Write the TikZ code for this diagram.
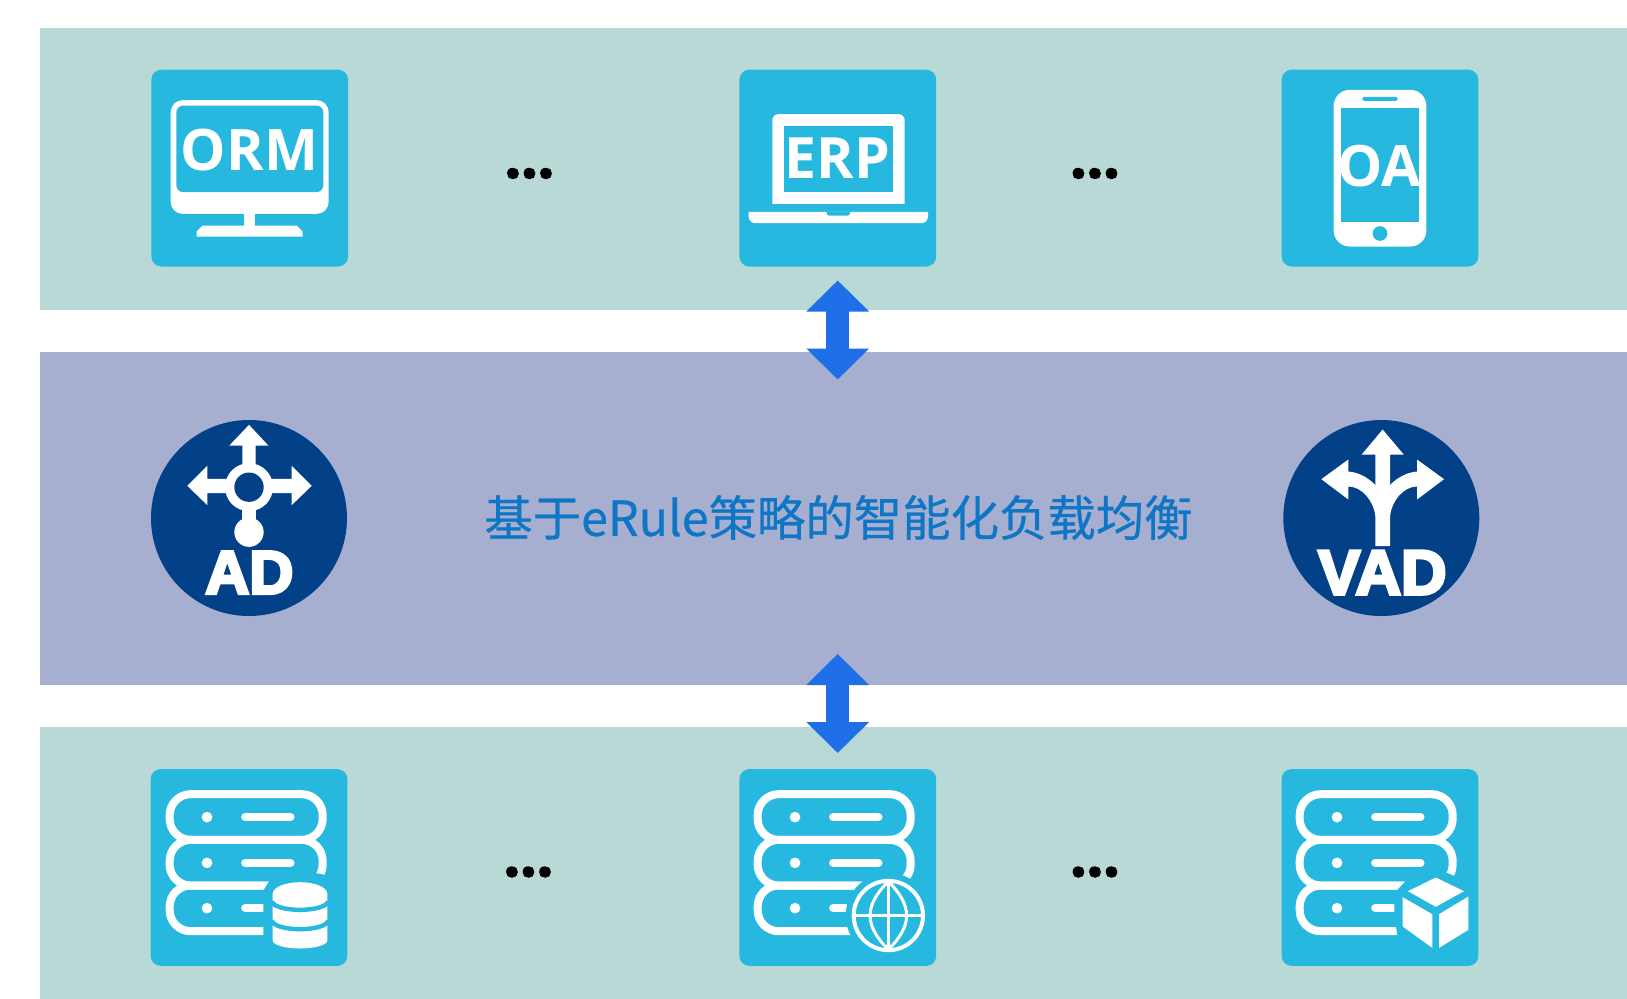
\documentclass[tikz,border=0pt]{standalone}
\usepackage{fontspec}
\usetikzlibrary{arrows.meta}
\setmainfont{Open Sans}
\newfontfamily\cjkfont[FakeBold=0.5]{Noto Sans CJK SC}
\newfontfamily\iconfont{Open Sans}
\newfontfamily\dotfont[FakeBold=3]{Open Sans Bold}
\newfontfamily\heavyfont[FakeBold=5]{Liberation Sans Bold}
\definecolor{bandgreen}{HTML}{B9D9D7}
\definecolor{bandviolet}{HTML}{A7AFD1}
\definecolor{tile}{HTML}{26B8DF}
\definecolor{navy}{HTML}{024087}
\definecolor{arrowblue}{HTML}{1F6FE9}
\definecolor{titleblue}{HTML}{0F75C5}
\tikzset{
  band/.style={fill=#1,draw=none,inner sep=0pt,outer sep=0pt,anchor=north west},
  tilebox/.style={fill=tile,draw=none,rounded corners=5pt,inner sep=0pt,outer sep=0pt,minimum width=98.4pt,minimum height=98.4pt},
  roundbox/.style={circle,fill=navy,draw=none,inner sep=0pt,outer sep=0pt,minimum size=98pt},
  bigarrow/.style={draw=arrowblue,line width=11.5pt,{Triangle[width=30.5pt,length=15.5pt,fill=arrowblue]}-{Triangle[width=30.5pt,length=15.5pt,fill=arrowblue]}},
  dotstext/.style={font=\fontsize{29pt}{29pt}\selectfont\dotfont,text=black,inner sep=0pt},
  icontext/.style={font=\fontsize{#1pt}{#1pt}\selectfont\bfseries\iconfont,text=white,inner sep=0pt,anchor=base},
  heavytext/.style={font=\fontsize{#1pt}{#1pt}\selectfont\heavyfont,text=white,inner sep=0pt,anchor=base},
  zoomed/.style={shift={#1},x=0.16667pt,y=-0.16667pt},
  ink/.style={fill=white,draw=none}
}
\newcommand{\serverstack}{%
  \draw[white,line width=4pt,rounded corners=10.5pt] (119,268) rectangle (578,131);
  \draw[white,line width=4pt,rounded corners=10.5pt] (119,405) rectangle (578,268);
  \draw[white,line width=4pt,rounded corners=10.5pt] (119,542) rectangle (578,405);
  \foreach \yy in {200,337,473}{
    \fill[white] (231,\yy) circle (16);
    \draw[white,line width=4.2pt,line cap=round] (346,\yy) -- (481,\yy);
  }%
}
\begin{document}
\begin{tikzpicture}[x=0.5pt,y=-0.5pt]
\useasboundingbox (0,-0.5) rectangle (1627,997.5);
\fill[white] (0,-0.5) rectangle (1627,997.5);
% bands
\node[band=bandgreen,minimum width=794pt,minimum height=141pt] (topband) at (39.5,27) {};
\node[band=bandviolet,minimum width=794pt,minimum height=166.5pt] (midband) at (39.5,351) {};
\node[band=bandgreen,minimum width=794pt,minimum height=136pt] (botband) at (39.5,726) {};
% tiles
\node[tilebox] (orm) at (249.7,167.6) {};
\node[tilebox] (erp) at (837.8,167.6) {};
\node[tilebox] (oa) at (1380,167.6) {};
\node[tilebox] (db) at (249,867) {};
\node[tilebox] (web) at (837.8,867) {};
\node[tilebox] (cube) at (1380,867) {};
\node[roundbox] (ad) at (249,517.5) {};
\node[roundbox] (vad) at (1381.3,517.5) {};
% title
\node[font=\fontsize{24.2pt}{24.2pt}\selectfont\cjkfont,text=titleblue,inner sep=0pt] (title) at (838.5,517) {基于eRule策略的智能化负载均衡};
% dots
\node[dotstext] (d1) at (529.5,173) {...};
\node[dotstext] (d2) at (1095,173) {...};
\node[dotstext] (d3) at (528.5,871.5) {...};
\node[dotstext] (d4) at (1095,871.5) {...};
% arrows
\coordinate (a1) at (837.7,280);
\coordinate (a2) at (837.7,379);
\coordinate (a3) at (837.7,653.5);
\coordinate (a4) at (837.7,752.5);
\draw[bigarrow] (a1) -- (a2);
\draw[bigarrow] (a3) -- (a4);
% ORM monitor
\begin{scope}[zoomed={(130,50)}]
  \fill[white,rounded corners=6pt] (122,490) rectangle (596,149);
  \fill[tile,rounded corners=3.5pt] (139,425) rectangle (580,165);
  \fill[white] (343,485) rectangle (375,530);
  \fill[white] (218,525) -- (500,525) -- (518,543) -- (518,558) -- (200,558) -- (200,543) -- cycle;
  \node[icontext=28.6] (ormt) at (358,360) {ORM};
\end{scope}
% ERP laptop
\begin{scope}[zoomed={(720,50)}]
  \fill[white,rounded corners=3pt] (157,460) [sharp corners] -- (157,300) [rounded corners=3pt] -- (157,191) -- (554,191) -- (554,300) [sharp corners] -- (554,460) -- cycle;
  \fill[tile] (191,425) rectangle (519,226);
  \fill[white] (86,484) -- (624,484) -- (624,498) arc (0:90:20) -- (106,518) arc (90:180:20) -- cycle;
  \fill[tile] (320,484) -- (390,484) -- (390,488) arc (0:90:7) -- (327,495) arc (90:180:7) -- cycle;
  \node[icontext=28.5] (erpt) at (352,385) {ERP};
\end{scope}
% OA phone
\begin{scope}[zoomed={(1260,50)}]
  \fill[white,rounded corners=8pt] (221,588) rectangle (499,118);
  \fill[tile] (243,513) rectangle (477,172);
  \fill[tile,rounded corners=1pt] (307,151) rectangle (413,139);
  \fill[tile] (360,549) circle (22);
  \node[icontext=28.5] (oat) at (358,408) {OA};
\end{scope}
% AD
\begin{scope}[zoomed={(130,400)}]
  \fill[white] (357,73) -- (415,135) -- (377,135) -- (377,200) -- (337,200) -- (337,135) -- (298,135) -- cycle;
  \fill[white] (172,256) -- (232,196) -- (232,235) -- (295,235) -- (295,278) -- (232,278) -- (232,314) -- cycle;
  \fill[white] (545,256) -- (485,196) -- (485,235) -- (420,235) -- (420,278) -- (485,278) -- (485,314) -- cycle;
  \fill[white] (337,315) rectangle (377,375);
  \fill[white] (357,395) circle (44);
  \fill[white] (357,260) circle (72);
  \fill[navy] (357,260) circle (44);
  \node[heavytext=30.5] (adt) at (358,579) {AD};
\end{scope}
% VAD
\begin{scope}[zoomed={(1260,400)}]
  \fill[white] (184,236) -- (265,177) -- (265,213) .. controls (300,216) and (330,235) .. (350,258) -- (350,350) -- (346,345) .. controls (340,300) and (305,258) .. (265,258) -- (265,297) -- cycle;
  \fill[white] (552,236) -- (471,177) -- (471,213) .. controls (436,216) and (406,235) .. (386,258) -- (386,350) -- (390,345) .. controls (396,300) and (431,258) .. (471,258) -- (471,297) -- cycle;
  \fill[white] (368,87) -- (431,162) -- (390,162) -- (390,437) -- (346,437) -- (346,162) -- (305,162) -- cycle;
  \node[heavytext=31.5] (vadt) at (367,581) {VAD};
\end{scope}
% DB server
\begin{scope}[zoomed={(130,750)}]
  \serverstack
  \fill[tile] (400,420) -- (400,610) -- (610,610) -- (610,378) -- (560,368) -- (418,391) -- cycle;
  \fill[white] (428,430) arc (180:360:82 and 35) -- (592,570) arc (0:180:82 and 24) -- cycle;
  \draw[tile,line width=2.2pt] (426,452) arc (180:0:84 and 26);
  \draw[tile,line width=2.2pt] (426,510) arc (180:0:84 and 26);
\end{scope}
% Web server
\begin{scope}[zoomed={(720,750)},xshift=-1pt]
  \serverstack
  \fill[tile] (511,495) circle (128);
  \draw[white,line width=2pt] (511,495) circle (104);
  \draw[white,line width=1.5pt] (511,393) .. controls (438,465) and (438,525) .. (511,597) .. controls (584,525) and (584,465) .. (511,393);
  \draw[white,line width=1.5pt] (511,391) -- (511,599);
  \draw[white,line width=1.5pt] (407,495) -- (615,495);
\end{scope}
% Cube server
\begin{scope}[zoomed={(1260,750)}]
  \serverstack
  \fill[tile] (403,428) -- (403,500) -- (412,553) -- (527,625) -- (650,550) -- (650,404) -- (527,353) -- (440,388) -- cycle;
  \fill[white] (527,381) -- (612,422) -- (527,469) -- (444,422) -- cycle;
  \fill[white] (428,440) -- (517,491) -- (517,592) -- (428,528) -- cycle;
  \fill[white] (625,438) -- (537,491) -- (537,592) -- (625,538) -- cycle;
\end{scope}
\end{tikzpicture}
\end{document}
